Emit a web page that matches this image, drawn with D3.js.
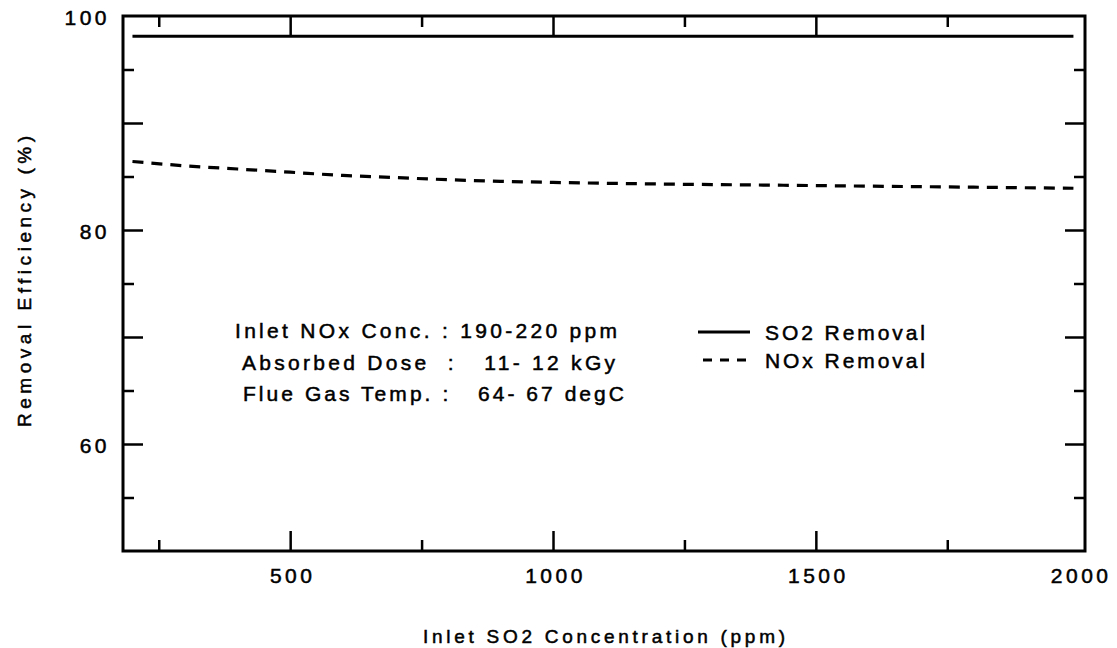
<!DOCTYPE html>
<html>
<head>
<meta charset="utf-8">
<script src="https://cdn.jsdelivr.net/npm/d3@7"></script>
<style>
    body { margin: 0; background: #fff; }
    svg { display: block; font-family: "Liberation Sans", Arial, sans-serif; }
    .frame { fill: none; stroke: #000; stroke-width: 3; }
    .tick line { stroke: #000; stroke-width: 2.5; }
    .domain { display: none; }
    .lbl text { font-size: 21px; letter-spacing: 3.5px; fill: #000; stroke: #000; stroke-width: 0.5; }
    .txt { font-size: 21px; fill: #000; stroke: #000; stroke-width: 0.5; }
</style>
</head>
<body>
<svg id="chart" width="1117" height="648"></svg>
<script>
// inlet SO2 concentration (ppm)
var inletSO2 = [200, 300, 400, 500, 600, 700, 800, 900, 1000, 1200, 1400, 1600, 1800, 1990];
// removal efficiency (%)
var so2Removal = [98.1, 98.1, 98.1, 98.1, 98.1, 98.1, 98.1, 98.1, 98.1, 98.1, 98.1, 98.1, 98.1, 98.1];
var noxRemoval = [86.4, 86.0, 85.7, 85.4, 85.1, 84.9, 84.7, 84.55, 84.45, 84.3, 84.2, 84.1, 84.0, 83.9];

var xLabels = [500, 1000, 1500, 2000];
var xMajor = [500, 1000, 1500];
var xMinor = [250, 750, 1250, 1750];
var yLabels = [60, 80, 100];
var yMajor = [60, 70, 80, 90];
var yMinor = [55, 65, 75, 85, 95];

var seriesNames = ["SO2 Removal", "NOx Removal"];
var noteLines = ["Inlet NOx Conc. : 190-220 ppm", "Absorbed Dose  :   11- 12 kGy", "Flue Gas Temp. :   64- 67 degC"];

var svg = d3.select("#chart");
var pLeft = 123, pRight = 1085, pTop = 16, pBottom = 551;

var x = d3.scaleLinear().domain([182, 2012]).range([pLeft, pRight]);
var y = d3.scaleLinear().domain([50, 100]).range([pBottom, pTop]);

// tick marks, all pointing inward
function marks(axis, vals, size, tx, ty) {
    svg.append("g")
        .attr("transform", "translate(" + tx + "," + ty + ")")
        .call(axis.tickValues(vals).tickSize(size).tickFormat(""));
}
marks(d3.axisBottom(x), xMajor, -20, 0, pBottom);
marks(d3.axisBottom(x), xMinor, -11, 0, pBottom);
marks(d3.axisTop(x), xMajor, -20, 0, pTop);
marks(d3.axisTop(x), xMinor, -11, 0, pTop);
marks(d3.axisLeft(y), yMajor, -20, pLeft, 0);
marks(d3.axisLeft(y), yMinor, -11, pLeft, 0);
marks(d3.axisRight(y), yMajor, -20, pRight, 0);
marks(d3.axisRight(y), yMinor, -11, pRight, 0);

// tick labels
svg.append("g").attr("class", "lbl")
    .attr("transform", "translate(2," + (pBottom + 17) + ")")
    .call(d3.axisBottom(x).tickValues(xLabels).tickSize(0).tickPadding(0).tickFormat(d3.format("d")));
svg.append("g").attr("class", "lbl")
    .attr("transform", "translate(" + (pLeft - 13) + ",2)")
    .call(d3.axisLeft(y).tickValues(yLabels).tickSize(0).tickPadding(0).tickFormat(d3.format("d")));

svg.append("rect").attr("class", "frame")
    .attr("x", pLeft).attr("y", pTop)
    .attr("width", pRight - pLeft).attr("height", pBottom - pTop);

// lines
var line = d3.line().curve(d3.curveMonotoneX);
svg.append("path")
    .attr("d", line(inletSO2.map(function (d, i) { return [x(d), y(so2Removal[i])]; })))
    .attr("fill", "none").attr("stroke", "#000").attr("stroke-width", 3);
svg.append("path")
    .attr("d", line(inletSO2.map(function (d, i) { return [x(d), y(noxRemoval[i])]; })))
    .attr("fill", "none").attr("stroke", "#000").attr("stroke-width", 3.2)
    .attr("stroke-dasharray", "11,8");

// axis titles
svg.append("text").attr("class", "txt")
    .attr("x", (pLeft + pRight) / 2).attr("y", 643)
    .attr("text-anchor", "middle")
    .attr("textLength", 362).attr("lengthAdjust", "spacing")
    .style("font-size", "19px")
    .text("Inlet SO2 Concentration (ppm)");
svg.append("text").attr("class", "txt")
    .attr("transform", "translate(31," + ((pTop + pBottom) / 2 - 2) + ") rotate(-90)")
    .attr("text-anchor", "middle")
    .attr("textLength", 291).attr("lengthAdjust", "spacing")
    .style("font-size", "19px")
    .text("Removal Efficiency (%)");

// condition notes
var noteX = [235, 242, 243], noteW = [382, 373, 381];
svg.selectAll(".note").data(noteLines).enter().append("text")
    .attr("class", "txt note")
    .attr("x", function (d, i) { return noteX[i]; })
    .attr("y", function (d, i) { return 338 + i * 31.5; })
    .attr("textLength", function (d, i) { return noteW[i]; })
    .attr("lengthAdjust", "spacing")
    .style("white-space", "pre")
    .text(function (d) { return d; });

// legend
var lg = svg.selectAll(".lg").data(seriesNames).enter().append("g")
    .attr("transform", function (d, i) { return "translate(0," + (332 + i * 28) + ")"; });
lg.append("line")
    .attr("x1", function (d, i) { return i ? 703 : 698; }).attr("x2", 750)
    .attr("stroke", "#000").attr("stroke-width", 3)
    .attr("stroke-dasharray", function (d, i) { return i ? "9,8" : null; });
lg.append("text").attr("class", "txt")
    .attr("x", 765).attr("y", 7.5)
    .attr("textLength", 160).attr("lengthAdjust", "spacing")
    .text(function (d) { return d; });
</script>
</body>
</html>
